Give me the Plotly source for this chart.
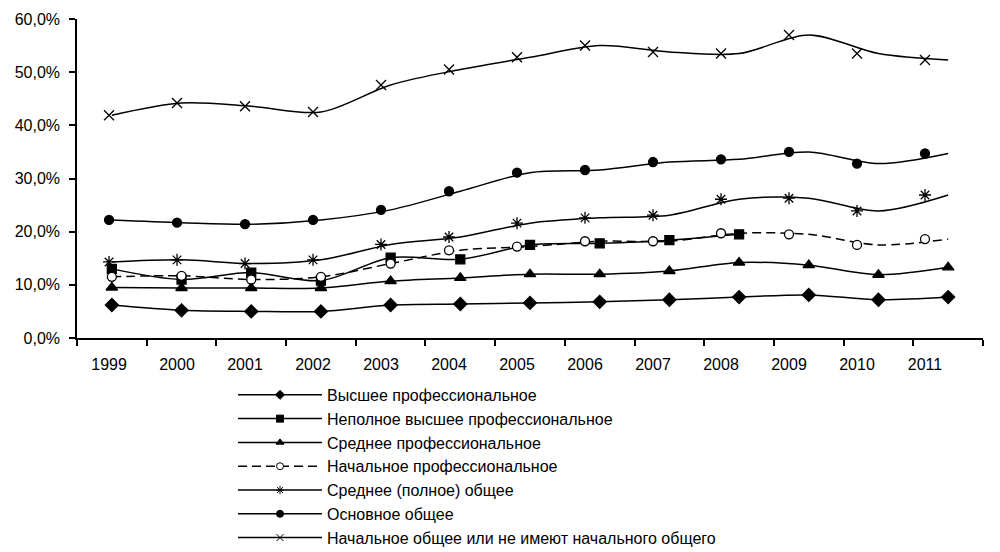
import plotly.graph_objects as go

years = list(range(1999, 2012))
year_labels = [str(y) for y in years]
boundaries = [y - 0.5 for y in years] + [years[-1] + 0.5]

names = [
    "Высшее профессиональное",
    "Неполное высшее профессиональное",
    "Среднее профессиональное",
    "Начальное профессиональное",
    "Среднее (полное) общее",
    "Основное общее",
    "Начальное общее или не имеют начального общего",
]

vysshee = [6.2, 5.2, 5.0, 5.0, 6.2, 6.4, 6.6, 6.8, 7.2, 7.7, 8.1, 7.2, 7.7]
nepolnoe_vysshee = [13.0, 11.0, 12.3, 10.8, 15.1, 14.8, 17.5, 17.8, 18.4, 19.5, None, None, None]
srednee_prof = [9.5, 9.4, 9.4, 9.4, 10.7, 11.3, 12.0, 12.0, 12.6, 14.2, 13.7, 11.9, 13.3]
nachalnoe_prof = [11.5, 11.7, 11.0, 11.5, 14.0, 16.5, 17.2, 18.2, 18.2, 19.7, 19.5, 17.5, 18.6]
srednee_obshee = [14.3, 14.7, 14.0, 14.7, 17.6, 19.0, 21.6, 22.6, 23.1, 26.1, 26.3, 23.9, 26.9]
osnovnoe = [22.2, 21.7, 21.4, 22.2, 24.1, 27.6, 31.1, 31.6, 33.1, 33.6, 35.0, 32.8, 34.7]
nachalnoe_obshee = [41.9, 44.2, 43.6, 42.5, 47.6, 50.5, 52.8, 55.0, 53.8, 53.5, 57.0, 53.5, 52.3]

series = [vysshee, nepolnoe_vysshee, srednee_prof, nachalnoe_prof,
          srednee_obshee, osnovnoe, nachalnoe_obshee]

symbols = ["diamond", "square", "triangle-up", "circle", "asterisk-open", "circle", "x-thin-open"]
sizes = [10, 9, 10, 9, 10, 9, 10]
fills = ["black", "black", "black", "white", "black", "black", "black"]
dashes = ["solid", "solid", "solid", "9px,5px", "solid", "solid", "solid"]
# index from which markers sit on the secondary (label) scale
shift_from = [None, None, None, 5, 0, 0, 0]

fig = go.Figure()
for i, (name, vals) in enumerate(zip(names, series)):
    yv = [v / 100 if v is not None else None for v in vals]
    grp = f"g{i}"
    fig.add_trace(go.Scatter(
        x=years, y=yv, mode="lines", xaxis="x", yaxis="y",
        line=dict(color="black", width=1.5, shape="spline", smoothing=0.9, dash=dashes[i]),
        showlegend=False, legendgroup=grp, hoverinfo="skip", connectgaps=False))
    mk = dict(symbol=symbols[i], size=sizes[i], color=fills[i],
              line=dict(color="black", width=1.3))
    s = shift_from[i]
    if s is None:
        parts = [("x", years, yv)]
    else:
        parts = [("x", years[:s], yv[:s]), ("x2", years[s:], yv[s:])]
    for ax, xs, ys in parts:
        if len(xs) == 0:
            continue
        fig.add_trace(go.Scatter(
            x=xs, y=ys, mode="markers", xaxis=ax, yaxis="y", marker=mk,
            showlegend=False, legendgroup=grp, cliponaxis=False))
    mk_leg = dict(symbol=symbols[i], size=7, color=fills[i],
                  line=dict(color="black", width=1))
    fig.add_trace(go.Scatter(
        x=[None], y=[None], mode="lines+markers", name=name, legendgroup=grp,
        line=dict(color="black", width=1.5, dash=dashes[i]), marker=mk_leg))

font = "Liberation Sans, Arial, sans-serif"
fig.update_layout(
    width=1000, height=552,
    margin=dict(l=77, r=17, t=19, b=214, autoexpand=False),
    paper_bgcolor="white", plot_bgcolor="white",
    separators=", ",
    font=dict(family=font, size=16, color="black"),
    xaxis=dict(range=[boundaries[0], boundaries[-1]], tickvals=boundaries,
               showticklabels=False, ticks="outside", ticklen=6, tickwidth=1.5,
               tickcolor="black", showline=True, linecolor="black", linewidth=1.5,
               showgrid=False, zeroline=False, automargin=False),
    xaxis2=dict(overlaying="x", anchor="y", side="bottom",
                range=[1998.529, 2011.853], tickvals=years, ticktext=year_labels,
                ticks="outside", ticklen=12, tickcolor="rgba(0,0,0,0)",
                showline=False, showgrid=False, zeroline=False,
                tickfont=dict(size=16), automargin=False),
    yaxis=dict(range=[0, 0.6], dtick=0.1, tickformat=".1%", ticks="outside",
               ticklen=6, tickwidth=1.5, tickcolor="black", showline=True,
               linecolor="black", linewidth=1.5, showgrid=False, zeroline=False,
               tickfont=dict(size=16), ticklabelstandoff=6, automargin=False),
    legend=dict(x=0.1722, y=-0.68, xanchor="left", yanchor="bottom",
                font=dict(family=font, size=16, color="black"),
                itemwidth=84, tracegroupgap=0, bgcolor="rgba(0,0,0,0)"),
    showlegend=True,
)

page_css = ("document.body.style.margin='0px';"
            "document.body.style.padding='0px';"
            "document.documentElement.style.overflow='hidden';")
fig.write_html("out.html", post_script=page_css, config={"displayModeBar": False})
